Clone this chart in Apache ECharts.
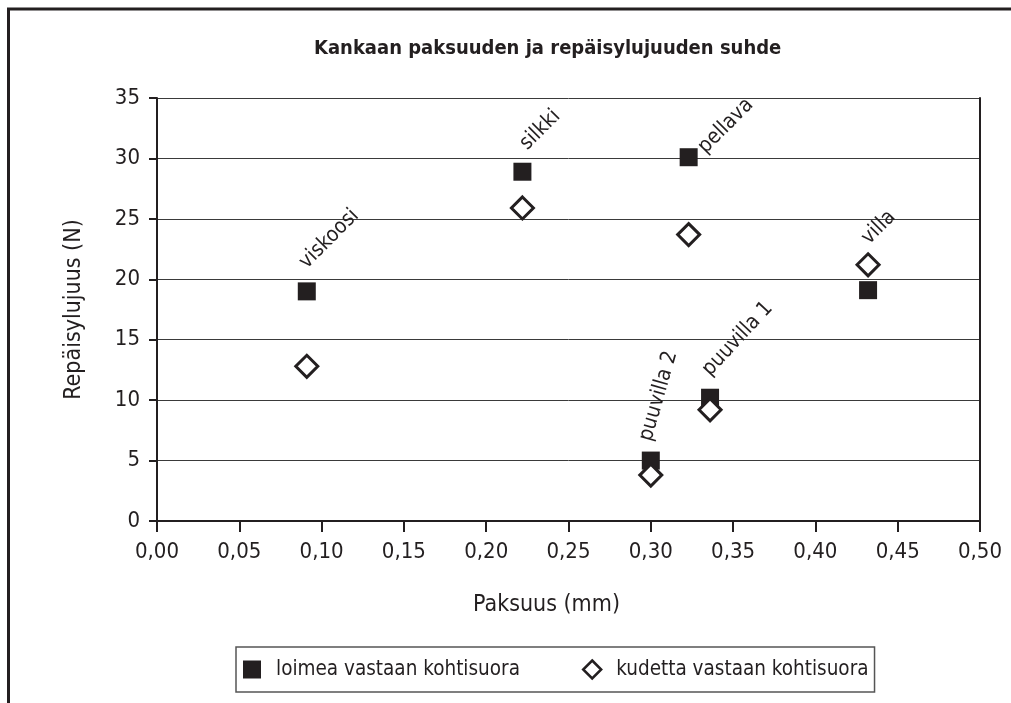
<!DOCTYPE html>
<html>
<head>
<meta charset="utf-8">
<script src="https://cdn.jsdelivr.net/npm/echarts@6/dist/echarts.min.js"></script>
<style>
html,body{margin:0;padding:0;background:#fff;}
#chart{width:1011px;height:703px;}
</style>
</head>
<body>
<div id="chart"></div>
<script>
// ---- data ----
const materials = ['viskoosi', 'silkki', 'pellava', 'villa', 'puuvilla 1', 'puuvilla 2'];
const thickness = [0.091, 0.222, 0.323, 0.432, 0.336, 0.300];
const warpStrength = [19.0, 28.9, 30.1, 19.1, 10.2, 5.0];   // loimea vastaan kohtisuora
const weftStrength = [12.8, 25.9, 23.7, 21.2, 9.2, 3.8];    // kudetta vastaan kohtisuora
const seriesNames = ['loimea vastaan kohtisuora', 'kudetta vastaan kohtisuora'];
const xTicks = [0, 0.05, 0.10, 0.15, 0.20, 0.25, 0.30, 0.35, 0.40, 0.45, 0.50];
const yTicks = [0, 5, 10, 15, 20, 25, 30, 35];

// ---- label placement (style only): offset of label anchor from marker centre, rotation ----
const labelLayout = [
  { dx: -4, dy: -26, rot: 45 },
  { dx: 1, dy: -25, rot: 45 },
  { dx: 13, dy: -7, rot: 45 },
  { dx: -3, dy: -49, rot: 45 },
  { dx: -4, dy: -25, rot: 47 },
  { dx: -5, dy: -20, rot: 74 }
];

const FONT = '"Liberation Sans Narrow", "DejaVu Sans Condensed", sans-serif';
const INK = '#231f20';
const SQ = 18;

const warpData = materials.map((m, i) => ({
  value: [thickness[i], warpStrength[i]],
  name: m,
  label: {
    show: true,
    formatter: m,
    position: [labelLayout[i].dx + SQ / 2, labelLayout[i].dy + SQ / 2],
    rotate: labelLayout[i].rot,
    align: 'left',
    verticalAlign: 'middle',
    color: INK,
    fontFamily: FONT,
    fontSize: 21
  }
}));
const weftData = materials.map((m, i) => [thickness[i], weftStrength[i]]);

const chart = echarts.init(document.getElementById('chart'), null, { renderer: 'canvas' });
chart.setOption({
  animation: false,
  backgroundColor: '#fff',
  textStyle: { fontFamily: FONT },
  title: {
    text: 'Kankaan paksuuden ja repäisylujuuden suhde',
    left: 314,
    top: 39,
    padding: 0,
    textStyle: { fontFamily: FONT, fontSize: 20, fontWeight: 'bold', color: INK }
  },
  graphic: [{
    type: 'rect',
    shape: { x: 8.5, y: 9, width: 1100, height: 800 },
    style: { fill: 'none', stroke: INK, lineWidth: 3 },
    silent: true
  }],
  grid: { left: 157, right: 31, top: 98, bottom: 182, containLabel: false },
  xAxis: {
    type: 'value',
    min: xTicks[0],
    max: xTicks[xTicks.length - 1],
    interval: xTicks[1] - xTicks[0],
    name: 'Paksuus (mm)',
    nameLocation: 'middle',
    nameGap: 73,
    nameTextStyle: { fontFamily: FONT, fontSize: 23, color: INK, padding: [0, 44, 0, 0] },
    axisLine: { onZero: false, lineStyle: { color: INK, width: 2 } },
    axisTick: { show: true, length: 11, lineStyle: { color: INK, width: 2 } },
    axisLabel: {
      margin: 20,
      fontFamily: FONT, fontSize: 22, color: INK,
      formatter: v => v.toFixed(2).replace('.', ',')
    },
    splitLine: { show: false }
  },
  yAxis: [{
    type: 'value',
    min: yTicks[0],
    max: yTicks[yTicks.length - 1],
    interval: yTicks[1] - yTicks[0],
    name: 'Repäisylujuus (N)',
    nameLocation: 'middle',
    nameGap: 71,
    nameRotate: 90,
    nameTextStyle: { fontFamily: FONT, fontSize: 23, color: INK },
    axisLine: { show: true, onZero: false, lineStyle: { color: INK, width: 2 } },
    axisTick: { show: true, length: 8, lineStyle: { color: INK, width: 2 } },
    axisLabel: { margin: 17, fontFamily: FONT, fontSize: 22, color: INK },
    splitLine: { show: true, lineStyle: { color: '#3a3a3a', width: 1 } }
  }, {
    type: 'value',
    position: 'right',
    min: yTicks[0],
    max: yTicks[yTicks.length - 1],
    interval: yTicks[1] - yTicks[0],
    axisLine: { show: true, onZero: false, lineStyle: { color: INK, width: 2 } },
    axisTick: { show: false },
    axisLabel: { show: false },
    splitLine: { show: false }
  }],
  legend: {
    left: 236,
    top: 647,
    orient: 'horizontal',
    padding: [12, 6, 12, 7],
    itemGap: 62,
    itemWidth: 18,
    itemHeight: 18,
    borderColor: '#555',
    borderWidth: 1.5,
    textStyle: { fontFamily: FONT, fontSize: 20.5, color: INK, padding: [0, 0, 0, 10] },
    data: [
      { name: seriesNames[0], icon: 'rect', itemStyle: { color: INK, opacity: 1 } },
      { name: seriesNames[1], icon: 'diamond', itemStyle: { color: '#fff', borderColor: INK, borderWidth: 2.5, opacity: 1 } }
    ]
  },
  series: [{
    name: seriesNames[0],
    type: 'scatter',
    symbol: 'rect',
    symbolSize: SQ,
    itemStyle: { color: INK, opacity: 1 },
    z: 3,
    data: warpData
  }, {
    name: seriesNames[1],
    type: 'scatter',
    symbol: 'diamond',
    symbolSize: 22,
    itemStyle: { color: '#fff', borderColor: INK, borderWidth: 3, opacity: 1 },
    z: 4,
    data: weftData
  }]
});
</script>
</body>
</html>
